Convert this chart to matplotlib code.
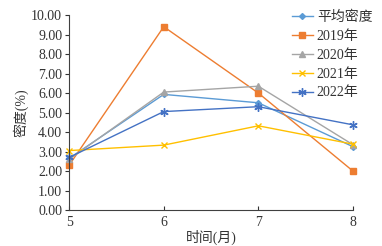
import matplotlib
matplotlib.use("Agg")
import matplotlib.pyplot as plt

plt.rcParams['font.family'] = ['Liberation Serif', 'Noto Sans CJK SC']

months = [5, 6, 7, 8]
series_names = ['平均密度', '2019年', '2020年', '2021年', '2022年']
avg = [2.65, 5.93, 5.50, 3.25]
y2019 = [2.30, 9.40, 6.00, 2.00]
y2020 = [2.60, 6.05, 6.35, 3.35]
y2021 = [3.05, 3.33, 4.32, 3.38]
y2022 = [2.70, 5.05, 5.30, 4.37]
yticks = [0, 1, 2, 3, 4, 5, 6, 7, 8, 9, 10]

colors = ['#5B9BD5', '#ED7D31', '#A5A5A5', '#FFC000', '#4472C4']
markers = ['D', 's', '^', 'x', (6, 2, 0)]
msizes = [3, 5, 4.5, 5, 6]

fig = plt.figure(figsize=(3.82, 2.46), dpi=100)
ax = fig.add_axes([0.181, 0.146, 0.743, 0.793])
for name, vals, c, m, ms in zip(series_names, [avg, y2019, y2020, y2021, y2022], colors, markers, msizes):
    ax.plot(months, vals, color=c, marker=m, markersize=ms, linewidth=1.0,
            markeredgewidth=1.0, label=name, clip_on=False)

ax.set_xlim(5, 8)
ax.set_ylim(0, 10)
ax.set_xticks(months)
ax.set_xticklabels([str(m) for m in months])
ax.set_yticks(yticks)
ax.set_yticklabels([f'{v:.2f}' for v in yticks])
ax.spines['top'].set_visible(False)
ax.spines['right'].set_visible(False)
ax.spines['left'].set_color('#404040')
ax.spines['bottom'].set_color('#404040')
ax.tick_params(axis='both', labelsize=10, colors='#333333', length=3, width=0.8)
ax.tick_params(axis='x', direction='in', pad=4)
ax.tick_params(axis='y', pad=2)
ax.set_xlabel('时间(月)', fontsize=10, color='#333333', labelpad=1)
ax.set_ylabel('密度(%)', fontsize=10, color='#333333', labelpad=2)

leg = ax.legend(loc='upper left', bbox_to_anchor=(0.765, 1.05), frameon=False,
                fontsize=10, handlelength=1.5, handletextpad=0.3, labelspacing=0.42,
                borderaxespad=0)
for t in leg.get_texts():
    t.set_color('#333333')

fig.savefig('out.png', dpi=100)
